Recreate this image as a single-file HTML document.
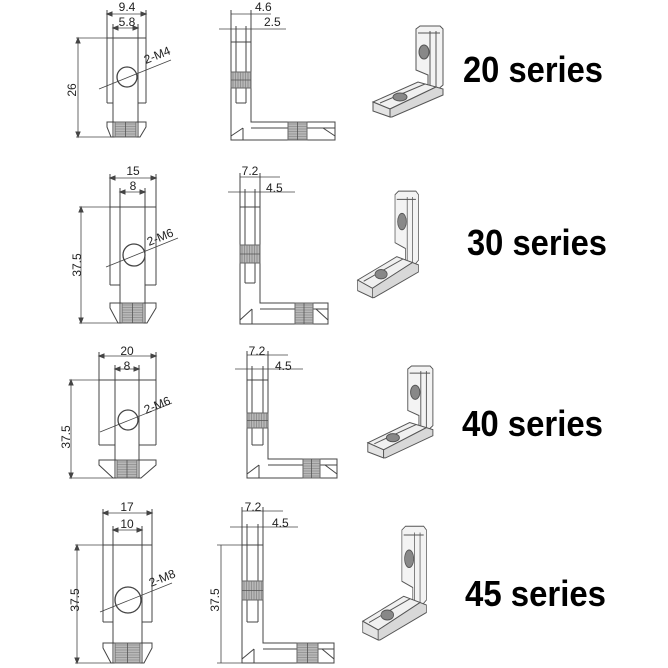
<!DOCTYPE html>
<html><head><meta charset="utf-8"><style>
html,body{margin:0;padding:0;background:#fff}
svg{display:block}
text{font-family:"Liberation Sans",sans-serif;fill:#222}
.d{font-size:12px}
.s{font-size:36px;font-weight:bold;fill:#000}
</style></head><body>
<svg id="s" width="668" height="668" viewBox="0 0 668 668" xmlns="http://www.w3.org/2000/svg">
<rect width="668" height="668" fill="#fff"/>
<g id="g" fill="none" stroke="#444" stroke-width="1"></g>
<!-- row 1 -->
<text class="d" x="127" y="11" text-anchor="middle" font-size="14">9.4</text>
<text class="d" x="127" y="26" text-anchor="middle" font-size="14">5.8</text>
<text class="d" transform="translate(76,90) rotate(-90)" text-anchor="middle" font-size="14">26</text>
<text class="d" transform="translate(146,64) rotate(-22)" font-size="14">2-M4</text>
<text class="d" x="255" y="11" font-size="14">4.6</text>
<text class="d" x="264" y="26" font-size="14">2.5</text>
<text class="s" x="463" y="82" textLength="140" lengthAdjust="spacingAndGlyphs">20 series</text>
<!-- row 2 -->
<text class="d" x="133" y="175" text-anchor="middle">15</text>
<text class="d" x="133" y="190" text-anchor="middle">8</text>
<text class="d" transform="translate(81,265) rotate(-90)" text-anchor="middle">37.5</text>
<text class="d" transform="translate(149,246) rotate(-22)">2-M6</text>
<text class="d" x="250" y="175" text-anchor="middle">7.2</text>
<text class="d" x="266" y="192">4.5</text>
<text class="s" x="467" y="255" textLength="140" lengthAdjust="spacingAndGlyphs">30 series</text>
<!-- row 3 -->
<text class="d" x="127" y="355" text-anchor="middle">20</text>
<text class="d" x="127" y="370" text-anchor="middle">8</text>
<text class="d" transform="translate(70,437) rotate(-90)" text-anchor="middle">37.5</text>
<text class="d" transform="translate(146,414) rotate(-22)">2-M6</text>
<text class="d" x="257" y="355" text-anchor="middle">7.2</text>
<text class="d" x="275" y="370">4.5</text>
<text class="s" x="462" y="436" textLength="141" lengthAdjust="spacingAndGlyphs">40 series</text>
<!-- row 4 -->
<text class="d" x="127" y="511" text-anchor="middle" font-size="13">17</text>
<text class="d" x="127" y="528" text-anchor="middle" font-size="13">10</text>
<text class="d" transform="translate(79,600) rotate(-90)" text-anchor="middle" font-size="13">37.5</text>
<text class="d" transform="translate(151,587) rotate(-22)" font-size="13">2-M8</text>
<text class="d" transform="translate(219,600) rotate(-90)" text-anchor="middle" font-size="13">37.5</text>
<text class="d" x="253" y="511" text-anchor="middle" font-size="13">7.2</text>
<text class="d" x="272" y="527" font-size="13">4.5</text>
<text class="s" x="465" y="606" textLength="141" lengthAdjust="spacingAndGlyphs">45 series</text>
</svg>
<script>
var g=document.getElementById('g'),h='';
function L(a,b,c,d,w,col){h+='<line x1="'+a+'" y1="'+b+'" x2="'+c+'" y2="'+d+'"'+(w?' stroke-width="'+w+'"':'')+(col?' stroke="'+col+'"':'')+'/>';}
function P(pts,f){h+='<polygon points="'+pts+'" fill="'+(f||'none')+'"/>';}
function R(x,y,w,hh,f,s){h+='<rect x="'+x+'" y="'+y+'" width="'+w+'" height="'+hh+'" fill="'+f+'"'+(s?' stroke="'+s+'"':'')+'/>';}
function thr(x,y,w,hh,vert){R(x,y,w,hh,'#b8b8b8','#666');
 if(vert){for(var i=y+2;i<y+hh;i+=2.5)L(x,i,x+w,i,0.6,'#777');L(x+w/2,y,x+w/2,y+hh,0.8,'#555');}
 else{for(var i=x+2;i<x+w;i+=2.5)L(i,y,i,y+hh,0.6,'#777');L(x,y+hh/2,x+w,y+hh/2,0.8,'#555');}}
function arrowH(x1,x2,y){L(x1,y,x2,y,0.8);P((x1)+','+y+' '+(x1+5)+','+(y-2)+' '+(x1+5)+','+(y+2),'#444');P((x2)+','+y+' '+(x2-5)+','+(y-2)+' '+(x2-5)+','+(y+2),'#444');}
function front(o){var l=o.L,r=o.R,a=o.a,b=o.b;
 L(l,o.T,r,o.T);L(l,o.T,l,o.SB);L(r,o.T,r,o.SB);L(l,o.SB,a,o.SB);L(b,o.SB,r,o.SB);
 L(a,o.T,a,o.NB);L(b,o.T,b,o.NB);
 P(l+','+o.NT+' '+r+','+o.NT+' '+r+','+(o.NT+5)+' '+(b+2)+','+o.NB+' '+(a-2)+','+o.NB+' '+l+','+(o.NT+5));
 thr(a+2,o.NT,b-a-4,o.NB-o.NT,true);
 h+='<circle cx="'+o.cx+'" cy="'+o.cy+'" r="'+o.cr+'" fill="#fff" stroke="#444" stroke-width="1.3"/>';
 L(o.cx-28,o.cy+12,o.cx+44,o.cy-17,0.8);
 L(l,o.d1-4,l,o.T);L(r,o.d1-4,r,o.T);L(a,o.d2-4,a,o.T);L(b,o.d2-4,b,o.T);
 arrowH(l,r,o.d1);arrowH(a,b,o.d2);
 L(o.dx-2,o.T,l,o.T,0.8);L(o.dx-2,o.NB,a,o.NB,0.8);L(o.dx,o.T,o.dx,o.NB,0.8);
 P(o.dx+','+o.T+' '+(o.dx-2)+','+(o.T+5)+' '+(o.dx+2)+','+(o.T+5),'#444');
 P(o.dx+','+o.NB+' '+(o.dx-2)+','+(o.NB-5)+' '+(o.dx+2)+','+(o.NB-5),'#444');}
function side(o){var x1=o.x1,x2=o.x2;
 P(x1+','+o.T+' '+x2+','+o.T+' '+x2+','+o.LT+' '+o.XR+','+o.LT+' '+o.XR+','+o.B+' '+x1+','+o.B);
 L(x1+5,o.T,x1+5,o.IS);L(x2-5,o.T,x2-5,o.IS);L(x1+5,o.IS,x2-5,o.IS);
 L(x2,o.LT+6,o.XR,o.LT+6);L(x1,o.B-4,x1+12,o.LT+6);L(o.XR,o.B-4,o.XR-12,o.LT+6);L(x1+12,o.LT+6,x1+12,o.B);
 thr(x1,o.tv1,x2-x1,o.tv2-o.tv1,false);
 thr(o.th1,o.LT,o.th2-o.th1,o.B-o.LT,true);
 L(x1,o.d1-4,x1,o.T);L(x2,o.d1-4,x2,o.T);L(x1+5,o.d2-3,x1+5,o.T);L(x2-5,o.d2-3,x2-5,o.T);
 L(x1-12,o.d2,x2+35,o.d2,0.8);L(x1,o.d1,x2+20,o.d1,0.8);
 if(o.vd){L(o.vd,o.T,o.vd,o.B,0.8);L(o.vd-4,o.T,x1,o.T,0.8);L(o.vd-4,o.B,x1,o.B,0.8);}}
function iso(x,y,sx,sy){h+='<g transform="translate('+x+','+y+') scale('+sx+','+sy+')" stroke="#555" stroke-width="'+(1/Math.max(sx,sy))+'">';
 P('46,4 50,1 70,1 73,4 73,60 66,66 58,66 58,50 46,45','#f3f3f3');
 L(60,6,60,60);L(66,6,66,62);L(48,8,70,8);
 P('3,77 48,57 66,62 20,84','#f0f0f0');P('3,77 20,84 20,92 3,86','#e4e4e4');
 P('20,84 66,62 73,64 73,70 22,92 20,92','#d8d8d8');L(10,78,55,59);
 h+='<ellipse cx="54" cy="27" rx="5" ry="7" fill="#888"/><ellipse cx="30" cy="72" rx="7" ry="4" fill="#888"/>';
 h+='</g>';}
front({L:107,R:146,a:113,b:138,T:38,SB:103,NT:122,NB:137,cx:127,cy:77,cr:10,d1:14,d2:28,dx:78});
front({L:110,R:156,a:120,b:145,T:207,SB:285,NT:303,NB:323,cx:134,cy:255,cr:11,d1:178,d2:192,dx:81});
front({L:99,R:156,a:115,b:139,T:380,SB:445,NT:460,NB:478,cx:128,cy:420,cr:10,d1:356,d2:369,dx:71});
front({L:103,R:152,a:113,b:142,T:545,SB:622,NT:643,NB:663,cx:128,cy:600,cr:13,d1:513,d2:530,dx:77});
side({x1:231,x2:251,T:42,LT:122,XR:335,B:140,IS:103,tv1:72,tv2:88,th1:288,th2:307,d1:14,d2:29});
side({x1:240,x2:260,T:207,LT:303,XR:328,B:324,IS:283,tv1:245,tv2:263,th1:295,th2:313,d1:177,d2:192});
side({x1:247,x2:268,T:380,LT:459,XR:337,B:478,IS:445,tv1:413,tv2:428,th1:303,th2:320,d1:355,d2:369});
side({x1:242,x2:263,T:545,LT:643,XR:334,B:663,IS:622,tv1:581,tv2:600,th1:297,th2:318,d1:511,d2:527,vd:221});
iso(370,25,1,1);iso(355,190,0.87,1.17);iso(365,365,0.93,1.01);iso(360,525,0.91,1.25);
g.innerHTML=h;
</script>
</body></html>
